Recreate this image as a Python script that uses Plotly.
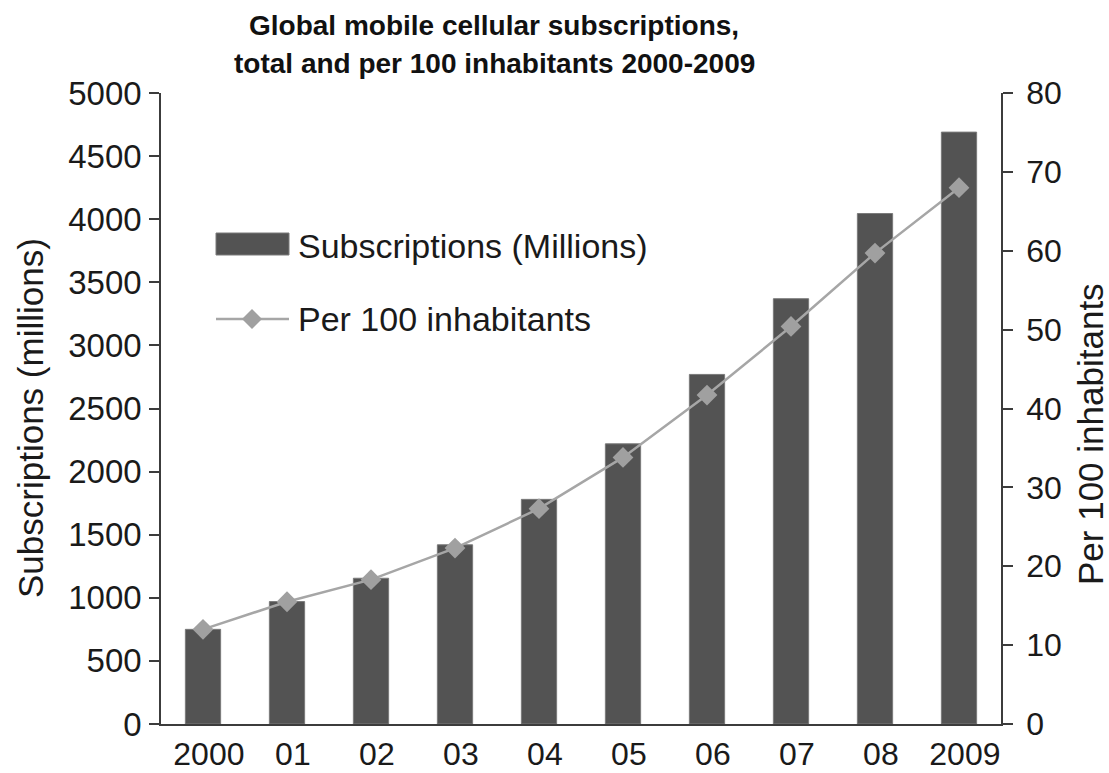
import plotly.graph_objects as go

# Global mobile cellular subscriptions, 2000-2009
years = ["2000", "01", "02", "03", "04", "05", "06", "07", "08", "2009"]
subscriptions_millions = [750, 970, 1155, 1420, 1780, 2220, 2770, 3370, 4045, 4690]
per_100_inhabitants = [12.0, 15.5, 18.3, 22.3, 27.3, 33.8, 41.7, 50.4, 59.7, 68.0]

left_ticks = [0, 500, 1000, 1500, 2000, 2500, 3000, 3500, 4000, 4500, 5000]
right_ticks = [0, 10, 20, 30, 40, 50, 60, 70, 80]

W, H = 1109, 773
L, R, T, B = 161, 108, 93, 49
PW, PH = W - L - R, H - T - B

BAR = "#535353"
LINE = "#a6a6a6"
AXIS = "#3c3c3c"
TEXT = "#1a1a1a"
FONT = "Liberation Sans, Arial, sans-serif"

xs = list(range(len(years)))
bounds = [i - 0.5 for i in range(len(years) + 1)]
label_pos = [i + 0.07 for i in xs]  # year labels sit slightly right of bar centres


def px(x):
    return (x - L) / PW


def py(y):
    return (H - B - y) / PH


fig = go.Figure()
fig.add_trace(go.Bar(
    x=xs, y=subscriptions_millions, width=0.42,
    marker=dict(color=BAR, line=dict(color="#7a7a7a", width=1)),
    name="Subscriptions (Millions)", showlegend=False,
))
fig.add_trace(go.Scatter(
    x=xs, y=per_100_inhabitants, yaxis="y2", mode="lines+markers",
    line=dict(color=LINE, width=2.5),
    marker=dict(symbol="diamond", size=16, color="#a0a0a0"),
    name="Per 100 inhabitants", showlegend=False,
))

common = dict(showgrid=False, zeroline=False, showline=True, linecolor=AXIS, linewidth=1.5,
              tickcolor=AXIS, tickwidth=1.5, automargin=False)
xr = [-0.5, len(years) - 0.5]

fig.update_layout(
    width=W, height=H,
    margin=dict(l=L, r=R, t=T, b=B),
    paper_bgcolor="white", plot_bgcolor="white",
    xaxis=dict(range=xr, tickvals=label_pos, ticktext=years, ticks="",
               tickfont=dict(family=FONT, size=32, color=TEXT), ticklabelstandoff=1, **common),
    xaxis2=dict(range=xr, overlaying="x", side="bottom", tickvals=bounds,
                ticks="outside", ticklen=9, showticklabels=False, **common),
    xaxis3=dict(range=xr, overlaying="x", side="bottom", tickvals=bounds,
                ticks="inside", ticklen=8, showticklabels=False, **common),
    yaxis=dict(range=[0, 5000], tickvals=left_ticks, ticks="outside", ticklen=10,
               tickfont=dict(family=FONT, size=33, color=TEXT), ticklabelstandoff=1, **common),
    yaxis3=dict(range=[0, 5000], overlaying="y", side="left", tickvals=left_ticks,
                ticks="inside", ticklen=10, showticklabels=False, **common),
    yaxis2=dict(range=[0, 80], overlaying="y", side="right", tickvals=right_ticks,
                ticks="outside", ticklen=10, tickfont=dict(family=FONT, size=32, color=TEXT),
                ticklabelstandoff=7, **common),
    yaxis4=dict(range=[0, 80], overlaying="y", side="right", tickvals=right_ticks,
                ticks="inside", ticklen=10, showticklabels=False, **common),
)

# Axis titles
fig.add_annotation(text="Subscriptions (millions)", x=px(30), y=py(418), xref="paper", yref="paper",
                   textangle=-90, showarrow=False, xanchor="center", yanchor="middle",
                   font=dict(family=FONT, size=35, color=TEXT))
fig.add_annotation(text="Per 100 inhabitants", x=px(1090), y=py(434), xref="paper", yref="paper",
                   textangle=-90, showarrow=False, xanchor="center", yanchor="middle",
                   font=dict(family=FONT, size=35, color=TEXT))

# Title, two centred lines
for line, yy in [("Global mobile cellular subscriptions,", 26),
                 ("total and per 100 inhabitants 2000-2009", 63)]:
    fig.add_annotation(text=f"<b>{line}</b>", x=px(494), y=py(yy),
                       xref="paper", yref="paper", showarrow=False, xanchor="center", yanchor="middle",
                       font=dict(family=FONT, size=28, color="#111"))

# Legend drawn inside the plot
fig.add_shape(type="rect", xref="paper", yref="paper", x0=px(216), x1=px(289), y0=py(255), y1=py(233),
              fillcolor=BAR, line=dict(color="#7a7a7a", width=1))
fig.add_shape(type="line", xref="paper", yref="paper", x0=px(216), x1=px(289), y0=py(319), y1=py(319),
              line=dict(color=LINE, width=2.5))
fig.add_shape(type="path", xref="paper", yref="paper",
              path=f"M {px(252)} {py(309)} L {px(262)} {py(319)} L {px(252)} {py(329)} L {px(242)} {py(319)} Z",
              fillcolor="#a0a0a0", line=dict(width=0))
for label, yy in [("Subscriptions (Millions)", 246), ("Per 100 inhabitants", 319)]:
    fig.add_annotation(text=label, x=px(296), y=py(yy), xref="paper", yref="paper", showarrow=False,
                       xanchor="left", yanchor="middle", font=dict(family=FONT, size=34, color=TEXT))

fig.write_html("out.html")
